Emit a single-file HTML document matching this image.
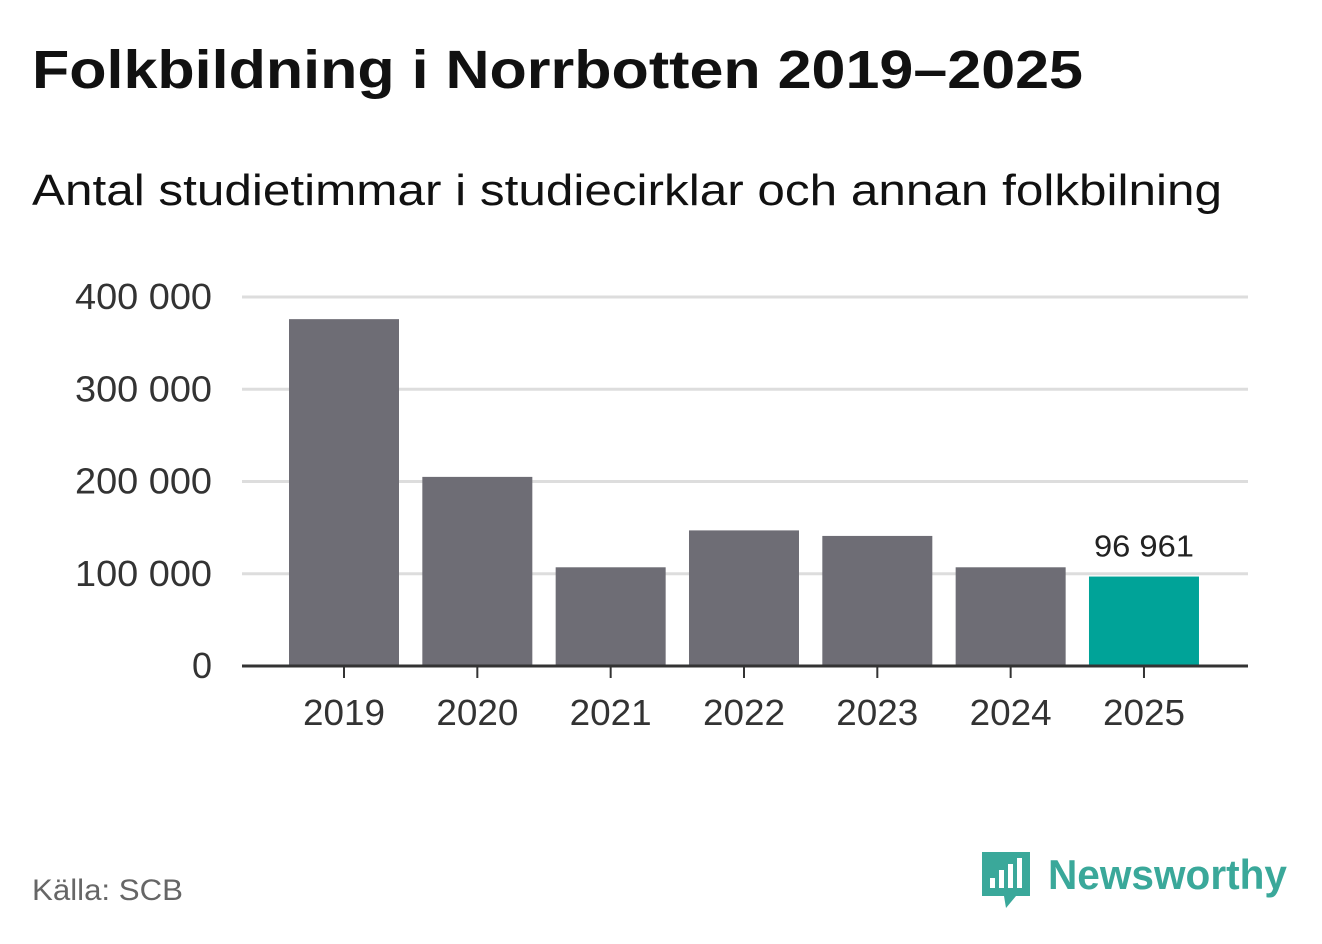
<!DOCTYPE html>
<html><head><meta charset="utf-8"><style>
body{margin:0;background:#fff;width:1322px;height:939px;overflow:hidden;font-family:"Liberation Sans","DejaVu Sans",sans-serif}
</style></head><body>
<svg width="1322" height="939" xmlns="http://www.w3.org/2000/svg">
<text x="32" y="88" font-size="54" font-weight="bold" fill="#111" textLength="1051" lengthAdjust="spacingAndGlyphs">Folkbildning i Norrbotten 2019–2025</text>
<text x="32" y="205" font-size="44" fill="#111" textLength="1190" lengthAdjust="spacingAndGlyphs">Antal studietimmar i studiecirklar och annan folkbilning</text>
<g id="grid"></g><g id="bars"></g><g id="xt"></g>
<text x="32" y="900" font-size="30" fill="#666" textLength="151" lengthAdjust="spacingAndGlyphs">Källa: SCB</text>
<g>
<path d="M982 852 h48 v44 h-14 l-10 12 l-2 -12 h-22 z" fill="#3aa89a"/>
<rect x="990" y="878" width="5" height="10" fill="#fff"/><rect x="999" y="870" width="5" height="18" fill="#fff"/><rect x="1008" y="864" width="5" height="24" fill="#fff"/><rect x="1017" y="858" width="5" height="30" fill="#fff"/>
<text x="1048" y="889" font-size="42" font-weight="bold" fill="#3aa89a" textLength="239" lengthAdjust="spacingAndGlyphs">Newsworthy</text>
</g>
</svg>
<script>
const years=["2019","2020","2021","2022","2023","2024","2025"];
const values=[376000,205000,107000,147000,141000,107000,96961];
const ticks=[0,100000,200000,300000,400000];
const tickLabels=["0","100 000","200 000","300 000","400 000"];
const NS="http://www.w3.org/2000/svg";
const y=v=>666-v*(369/400000);
const x=i=>344+i*133.33;
function mk(t,a,p,txt){const e=document.createElementNS(NS,t);for(const k in a)e.setAttribute(k,a[k]);if(txt!==undefined)e.textContent=txt;p.appendChild(e);return e;}
const g=document.getElementById('grid'),b=document.getElementById('bars'),xt=document.getElementById('xt');
ticks.forEach((t,i)=>{
 if(t>0){const l=mk('line',{x1:242,x2:1248,y1:y(t),y2:y(t),stroke:'#ddd','stroke-width':3},g);
 
 }
 const tx=mk('text',{x:212,y:y(t)+12,'font-size':36,fill:'#333','text-anchor':'end'},g,tickLabels[i]);
 if(t>0){tx.setAttribute('textLength',137);tx.setAttribute('lengthAdjust','spacingAndGlyphs');}
 
 
});
values.forEach((v,i)=>{
 const last=i===values.length-1;
 const r=mk('rect',{x:x(i)-55,y:y(v),width:110,height:666-y(v),fill:last?'#00a398':'#6e6d75'},b);
 
 
 const tk=mk('line',{x1:x(i),x2:x(i),y1:666,y2:678,stroke:'#333','stroke-width':2},xt);
 
 
 const t=mk('text',{x:x(i),y:725,'font-size':36,fill:'#333','text-anchor':'middle',textLength:82,lengthAdjust:'spacingAndGlyphs'},xt,years[i]);
 
 
 if(last){const lb=mk('text',{x:x(i),y:y(v)-20,'font-size':31,fill:'#222','text-anchor':'middle',textLength:100,lengthAdjust:'spacingAndGlyphs'},b,String(v).replace(/\B(?=(\d{3})+(?!\d))/g,' '));
 
 }
});
const ax=mk('line',{x1:242,x2:1248,y1:666,y2:666,stroke:'#333','stroke-width':3},xt);


</script>
</body></html>
